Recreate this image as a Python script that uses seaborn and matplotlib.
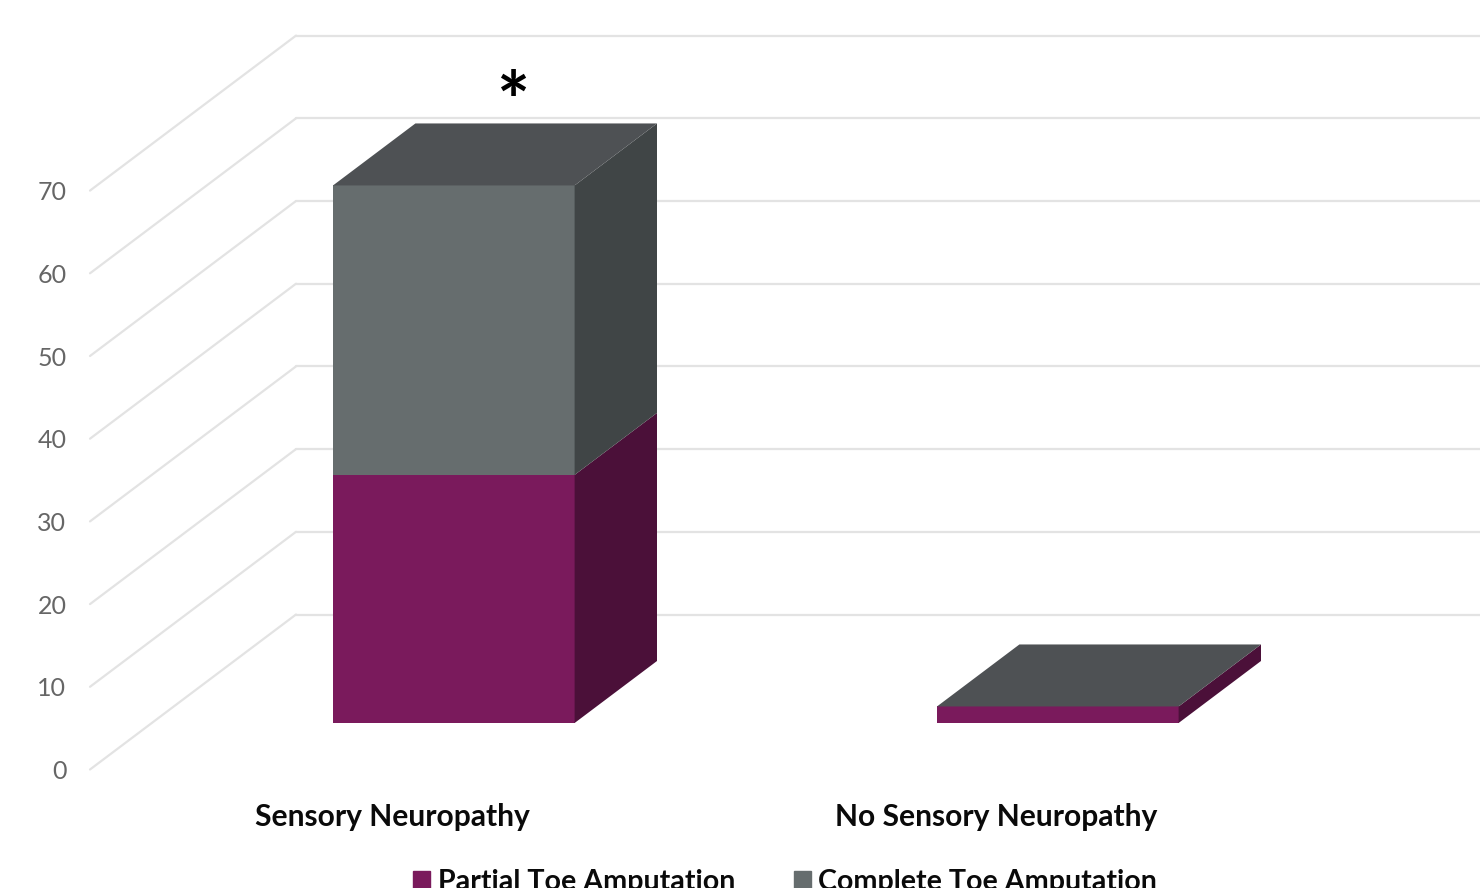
"""
Toe amputation by neuropathy status - stacked bars with a 3D look
"""

import numpy as np
import pandas as pd
import matplotlib
matplotlib.use('Agg')
import matplotlib.pyplot as plt
from matplotlib.patches import Patch
import seaborn as sns

# Data
groups = ['Sensory Neuropathy', 'No Sensory Neuropathy']
partial = [30, 2]
complete = [35, 0]
y_ticks = [0, 10, 20, 30, 40, 50, 60, 70]

# Colours
PARTIAL_FRONT, PARTIAL_SIDE = '#7A1A5C', '#4B1039'
COMPLETE_FRONT, COMPLETE_SIDE = '#666D6E', '#404546'
TOP = '#4E5154'
GRID = '#E3E3E3'

sns.set_theme(style='white')
plt.rcParams['font.family'] = ['Lato', 'DejaVu Sans']

# Axes span from the left wall edge to the right of the image, floor front edge at the bottom
W, H = 1480, 888
X0, Y0 = 90, 769.5
CAT_PX, UNIT_PX = 604, 8.27
fig = plt.figure(figsize=(W / 100, H / 100), dpi=100, facecolor='white')
ax = fig.add_axes([X0 / W, (H - Y0) / H, (W - X0) / W, Y0 / H])
ax.set_xlim(-0.5, -0.5 + (W - X0) / CAT_PX)
ax.set_ylim(0, Y0 / UNIT_PX)

# Oblique projection: how far a full step into the chart moves a point
DEPTH_X = 206 / CAT_PX
DEPTH_Y = 155 / UNIT_PX
BAR_WIDTH = 0.4
BAR_FRONT, BAR_BACK = 0.3, 0.7


def project(x, y, depth):
    return x + depth * DEPTH_X, y + depth * DEPTH_Y


# Walls
x_left = ax.get_xlim()[0]
x_right = ax.get_xlim()[1]
for v in y_ticks:
    bx, by = project(x_left, v, 1)
    ax.plot([x_left, bx], [v, by], color=GRID, lw=1.6, zorder=1, clip_on=False)
    ax.plot([bx, x_right], [by, by], color=GRID, lw=1.6, zorder=1)

# Front faces
pos = np.arange(len(groups))
df = pd.DataFrame({'pos': pos + BAR_FRONT * DEPTH_X, 'partial': partial, 'complete': complete})
lift = BAR_FRONT * DEPTH_Y
sns.barplot(data=df, x='pos', y='complete', native_scale=True, width=BAR_WIDTH, color=COMPLETE_FRONT,
            saturation=1, bottom=lift + df['partial'].to_numpy(), linewidth=0, ax=ax, zorder=3)
sns.barplot(data=df, x='pos', y='partial', native_scale=True, width=BAR_WIDTH, color=PARTIAL_FRONT,
            saturation=1, bottom=lift, linewidth=0, ax=ax, zorder=3)
ax.set_xlim(x_left, x_right)
ax.set_ylim(0, Y0 / UNIT_PX)


# Side and top faces
def side_face(i, low, high, color):
    x = pos[i] + BAR_WIDTH / 2
    corners = [project(x, low, BAR_FRONT), project(x, low, BAR_BACK),
               project(x, high, BAR_BACK), project(x, high, BAR_FRONT)]
    ax.fill(*zip(*corners), color=color, lw=0, zorder=3)


def top_face(i, level, color):
    a, b = pos[i] - BAR_WIDTH / 2, pos[i] + BAR_WIDTH / 2
    corners = [project(a, level, BAR_FRONT), project(b, level, BAR_FRONT),
               project(b, level, BAR_BACK), project(a, level, BAR_BACK)]
    ax.fill(*zip(*corners), color=color, lw=0, zorder=3)


for i in range(len(groups)):
    side_face(i, 0, partial[i], PARTIAL_SIDE)
    if complete[i] > 0:
        side_face(i, partial[i], partial[i] + complete[i], COMPLETE_SIDE)
    top_face(i, partial[i] + complete[i], TOP)

# Significance mark
ax.text(0.2, 80.1, '*', fontsize=56, fontweight='bold', color='black', ha='center', va='center', zorder=4)

# Axis text
ax.set_xticks(pos, groups, fontsize=21.6, fontweight='bold', color='#0A0A0A')
ax.set_yticks(y_ticks, [str(v) for v in y_ticks], fontsize=18, color='#666666')
ax.tick_params(axis='x', length=0, pad=24)
ax.tick_params(axis='y', length=0, pad=17)
for lab in ax.get_yticklabels():
    lab.set_va('center_baseline')
ax.set_xlabel('')
ax.set_ylabel('')
sns.despine(ax=ax, left=True, bottom=True)

# Legend, cut by the bottom edge of the picture as in the source
handles = [Patch(color=PARTIAL_FRONT, label='Partial Toe Amputation'),
           Patch(color=COMPLETE_FRONT, label='Complete Toe Amputation')]
leg = fig.legend(handles=handles, loc='center', bbox_to_anchor=(785 / W, (H - 882) / H), ncol=2, frameon=False,
                 handlelength=0.6, handleheight=0.6, handletextpad=0.25, columnspacing=2.05,
                 prop={'size': 20.6, 'weight': 'bold'}, labelcolor='#0A0A0A', borderpad=0)

plt.savefig('out.png', dpi=100, facecolor='white')
plt.close()
